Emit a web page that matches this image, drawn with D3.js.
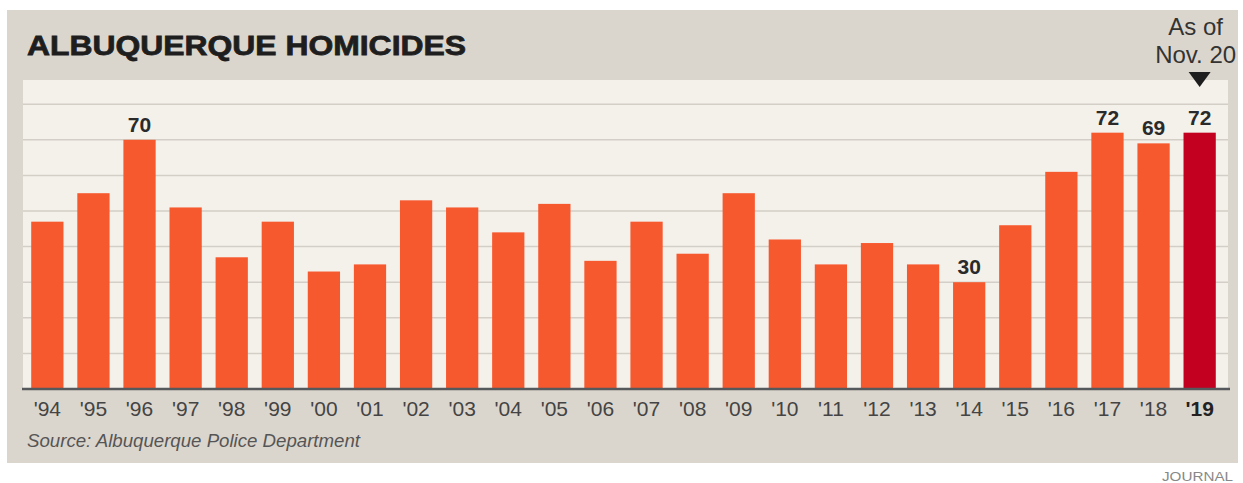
<!DOCTYPE html>
<html>
<head>
<meta charset="utf-8">
<script src="https://cdn.jsdelivr.net/npm/d3@7"></script>
<style>
  body { margin: 0; background: #fff; }
  svg { display: block; font-family: "Liberation Sans", Arial, sans-serif; }
</style>
</head>
<body>
<div id="chart"></div>
<script>
const years = ["'94","'95","'96","'97","'98","'99","'00","'01","'02","'03","'04","'05","'06",
               "'07","'08","'09","'10","'11","'12","'13","'14","'15","'16","'17","'18","'19"];
const homicides = [47,55,70,51,37,47,33,35,53,51,44,52,36,47,38,55,42,35,41,35,30,46,61,72,69,72];
const labeled = ["'96","'14","'17","'18","'19"];
const gridTicks = [10,20,30,40,50,60,70,80];
const current = "'19";

const W = 1243, H = 483;
const plot = { left: 23, right: 1228, top: 80, bottom: 389 };

const svg = d3.select('#chart').append('svg')
    .attr('width', W)
    .attr('height', H);

// outer panel
svg.append('rect')
    .attr('x', 7).attr('y', 10)
    .attr('width', 1231).attr('height', 453)
    .attr('fill', '#dbd6cd');

// plot area
svg.append('rect')
    .attr('x', plot.left).attr('y', plot.top)
    .attr('width', plot.right - plot.left).attr('height', plot.bottom - plot.top)
    .attr('fill', '#f4f1eb');

var x = d3.scaleBand()
    .domain(years)
    .range([22, 1225])
    .paddingInner(0.3)
    .paddingOuter(0.2);

var y = d3.scaleLinear()
    .domain([0, 10])
    .range([plot.bottom, plot.bottom - 35.6]);

// gridlines
svg.append('g')
    .selectAll('line')
    .data(gridTicks)
    .join('line')
    .attr('x1', plot.left).attr('x2', plot.right)
    .attr('y1', d => y(d)).attr('y2', d => y(d))
    .attr('stroke', '#d3cec6')
    .attr('stroke-width', 1.5);

// bars
svg.append('g')
    .selectAll('rect')
    .data(d3.zip(years, homicides))
    .join('rect')
    .attr('x', d => x(d[0]))
    .attr('y', d => y(d[1]))
    .attr('width', x.bandwidth())
    .attr('height', d => y(0) - y(d[1]))
    .attr('fill', d => d[0] === current ? '#c3001f' : '#f7592f');

// value labels
svg.append('g')
    .selectAll('text')
    .data(d3.zip(years, homicides).filter(d => labeled.includes(d[0])))
    .join('text')
    .attr('x', d => x(d[0]) + x.bandwidth() / 2)
    .attr('y', d => y(d[1]) - 8)
    .attr('text-anchor', 'middle')
    .attr('font-size', 21)
    .attr('font-weight', 'bold')
    .attr('fill', '#2a2a2a')
    .text(d => d[1]);

// baseline
svg.append('line')
    .attr('x1', plot.left - 1).attr('x2', plot.right + 2)
    .attr('y1', plot.bottom).attr('y2', plot.bottom)
    .attr('stroke', '#55595c')
    .attr('stroke-width', 2.5);

// x axis
var xAxis = svg.append('g')
    .attr('transform', `translate(0,${plot.bottom})`)
    .call(d3.axisBottom(x).tickSize(0).tickPadding(27));
xAxis.select('.domain').remove();
xAxis.selectAll('text')
    .attr('font-family', '"Liberation Sans", Arial, sans-serif')
    .attr('font-size', 21)
    .attr('dy', 0)
    .attr('font-weight', d => d === current ? 'bold' : 'normal')
    .attr('fill', d => d === current ? '#222' : '#444');

// title
svg.append('text')
    .attr('x', 27).attr('y', 55)
    .attr('font-size', 28)
    .attr('font-weight', 'bold')
    .attr('textLength', 439)
    .attr('lengthAdjust', 'spacingAndGlyphs')
    .attr('fill', '#1e1e1e')
    .attr('stroke', '#1e1e1e')
    .attr('stroke-width', 0.8)
    .text('ALBUQUERQUE HOMICIDES');

// "As of Nov. 20" note with arrow
var cx = x(current) + x.bandwidth() / 2 - 4;
svg.append('text')
    .attr('x', cx).attr('y', 35)
    .attr('text-anchor', 'middle')
    .attr('font-size', 24)
    .attr('fill', '#333')
    .text('As of');
svg.append('text')
    .attr('x', cx).attr('y', 63)
    .attr('text-anchor', 'middle')
    .attr('font-size', 24)
    .attr('fill', '#333')
    .text('Nov. 20');
var ax = x(current) + x.bandwidth() / 2;
svg.append('path')
    .attr('d', `M${ax - 11},72 L${ax + 11},72 L${ax},87 Z`)
    .attr('fill', '#1e1e1e');

// source
svg.append('text')
    .attr('x', 27).attr('y', 447)
    .attr('font-size', 18)
    .attr('font-style', 'italic')
    .attr('textLength', 333)
    .attr('lengthAdjust', 'spacingAndGlyphs')
    .attr('fill', '#555')
    .text('Source: Albuquerque Police Department');

// credit
svg.append('text')
    .attr('x', 1162).attr('y', 481)
    .attr('font-size', 13)
    .attr('textLength', 71)
    .attr('lengthAdjust', 'spacingAndGlyphs')
    .attr('fill', '#888')
    .text('JOURNAL');
</script>
</body>
</html>
